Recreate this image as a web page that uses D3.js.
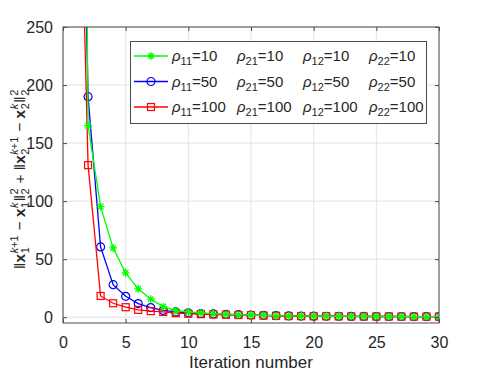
<!DOCTYPE html>
<html>
<head>
<meta charset="utf-8">
<script src="https://cdn.jsdelivr.net/npm/d3@7"></script>
<style>
  body { margin: 0; background: #fff; }
  text { font-family: "Liberation Sans", Arial, sans-serif; fill: #262626; }
</style>
</head>
<body>
<svg width="485" height="374"></svg>
<script>
var iterations = d3.range(1, 31);
var rho10 = [1500, 165, 95.3, 59.7, 38.2, 24.4, 15.5, 9.1, 5.7, 4.5, 3.6, 3, 2.6, 2.2, 1.9, 1.6, 1.3, 1.1, 1, 0.9, 0.8, 0.8, 0.7, 0.7, 0.6, 0.6, 0.6, 0.5, 0.5, 0.5];
var rho50 = [700, 190, 60.5, 28, 18, 11.7, 8.3, 5.8, 4.5, 3.8, 3.2, 2.8, 2.5, 2.2, 1.9, 1.6, 1.3, 1.1, 1, 0.9, 0.8, 0.8, 0.7, 0.7, 0.6, 0.6, 0.6, 0.5, 0.5, 0.5];
var rho100 = [560, 131, 18.3, 12, 8.6, 6.3, 5.2, 4.5, 3.5, 3, 2.6, 2.3, 2.1, 1.9, 1.7, 1.4, 1.2, 1, 0.9, 0.8, 0.8, 0.7, 0.7, 0.6, 0.6, 0.6, 0.5, 0.5, 0.5, 0.5];
var rhoValues = [10, 50, 100];
var xTicks = [0, 5, 10, 15, 20, 25, 30];
var yTicks = [0, 50, 100, 150, 200, 250];

var svg = d3.select("svg"),
    margin = {top: 27, left: 63, bottom: 51, right: 46},
    width = +svg.attr("width") - margin.left - margin.right,
    height = +svg.attr("height") - margin.top - margin.bottom;

var x = d3.scaleLinear().domain([0, 30]).range([0, width]);
var y = d3.scaleLinear().domain([-5, 250]).range([height, 0]);

var g = svg.append("g")
    .attr("transform", "translate(" + margin.left + "," + margin.top + ")");

// grid
g.append("g").selectAll("line").data(xTicks).enter().append("line")
    .attr("x1", function(d) { return x(d); }).attr("x2", function(d) { return x(d); })
    .attr("y1", 0).attr("y2", height)
    .attr("stroke", "#e3e3e3");
g.append("g").selectAll("line").data(yTicks).enter().append("line")
    .attr("y1", function(d) { return y(d); }).attr("y2", function(d) { return y(d); })
    .attr("x1", 0).attr("x2", width)
    .attr("stroke", "#e3e3e3");

// series (drawn blue, red, green so green stars sit on top)
var series = [
  {key: "rho50", values: rho50, color: "#0000ff", marker: "circle", rho: 50},
  {key: "rho100", values: rho100, color: "#ff0000", marker: "square", rho: 100},
  {key: "rho10", values: rho10, color: "#00ff00", marker: "star", rho: 10}
];

g.append("clipPath").attr("id", "clip").append("rect")
    .attr("width", width).attr("height", height);

var line = d3.line()
    .x(function(d, i) { return x(iterations[i]); })
    .y(function(d) { return y(d); });

function drawMarker(sel, type, color) {
  if (type === "circle") {
    sel.append("circle").attr("r", 4).attr("fill", "none").attr("stroke", color).attr("stroke-width", 1.2);
  } else if (type === "square") {
    sel.append("rect").attr("x", -3.5).attr("y", -3.5).attr("width", 7).attr("height", 7)
        .attr("fill", "none").attr("stroke", color).attr("stroke-width", 1.2);
  } else {
    sel.append("path")
        .attr("d", "M-4,0H4M0,-4V4M-2.8,-2.8L2.8,2.8M-2.8,2.8L2.8,-2.8")
        .attr("stroke", color).attr("stroke-width", 1.3);
  }
}

series.forEach(function(s) {
  var sg = g.append("g").attr("clip-path", "url(#clip)");
  sg.append("path")
      .datum(s.values)
      .attr("fill", "none")
      .attr("stroke", s.color)
      .attr("stroke-width", 1.3)
      .attr("d", line);
  sg.selectAll(".m").data(s.values).enter().append("g")
      .attr("class", "m")
      .attr("transform", function(d, i) { return "translate(" + x(iterations[i]) + "," + y(d) + ")"; })
      .each(function() { drawMarker(d3.select(this), s.marker, s.color); });
});

// axes box
g.append("rect").attr("width", width).attr("height", height)
    .attr("fill", "none").attr("stroke", "#4d4d4d").attr("stroke-width", 1);

g.append("g")
    .attr("transform", "translate(0," + height + ")")
    .call(d3.axisBottom(x).tickValues(xTicks).tickSizeInner(-4).tickSizeOuter(0).tickPadding(14));
g.append("g")
    .call(d3.axisLeft(y).tickValues(yTicks).tickSizeInner(-4).tickSizeOuter(0).tickPadding(10));
g.append("g").attr("transform", "translate(" + width + ",0)")
    .call(d3.axisRight(y).tickValues(yTicks).tickSizeInner(-4).tickSizeOuter(0).tickFormat(""));
g.append("g")
    .call(d3.axisTop(x).tickValues(xTicks).tickSizeInner(-4).tickSizeOuter(0).tickFormat(""));

g.selectAll(".domain").remove();
g.selectAll(".tick line").attr("stroke", "#4d4d4d");
g.selectAll(".tick text")
    .style("font-family", "'Liberation Sans', Arial, sans-serif")
    .attr("font-size", 16).attr("fill", "#262626");

// x label
svg.append("text")
    .attr("x", margin.left + width / 2)
    .attr("y", 368)
    .attr("text-anchor", "middle")
    .attr("font-size", 17)
    .text("Iteration number");

// y label built from pieces
var fs = 15.5, small = 11;
var pieces = [
  {t: "\u2016"}, {t: "x", b: true}, {sub: "1", sup: "k+1"}, {t: " \u2212 "},
  {t: "x", b: true}, {sub: "1", sup: "k"}, {t: "\u2016"}, {sub: "2", sup: "2"},
  {t: " + "},
  {t: "\u2016"}, {t: "x", b: true}, {sub: "2", sup: "k+1"}, {t: " \u2212 "},
  {t: "x", b: true}, {sub: "2", sup: "k"}, {t: "\u2016"}, {sub: "2", sup: "2"}
];
var yl = svg.append("g").attr("transform", "translate(25," + (margin.top + height / 2 + 4) + ") rotate(-90)");
var inner = yl.append("g");
var cx = 0;
function supText(sel, s) {
  s.split("").forEach(function(ch) {
    sel.append("tspan").attr("font-style", ch === "k" ? "italic" : "normal").text(ch);
  });
}
pieces.forEach(function(p) {
  if (p.t !== undefined) {
    var t = inner.append("text").attr("x", cx).attr("y", 0).attr("font-size", fs)
        .attr("font-weight", p.b ? "bold" : "normal")
        .style("white-space", "pre").text(p.t);
    cx += t.node().getComputedTextLength();
  } else {
    var a = inner.append("text").attr("x", cx + 0.5).attr("y", 4).attr("font-size", small).text(p.sub);
    var b = inner.append("text").attr("x", cx + 0.5).attr("y", -7.5).attr("font-size", small);
    supText(b, p.sup);
    cx += Math.max(a.node().getComputedTextLength(), b.node().getComputedTextLength()) + 1;
  }
});
inner.attr("transform", "translate(" + (-cx / 2) + ",0)");

// legend
var legend = svg.append("g");
legend.append("rect")
    .attr("x", 130.5).attr("y", 41.5).attr("width", 296).attr("height", 82)
    .attr("fill", "#fff").attr("stroke", "#4d4d4d").attr("stroke-width", 1);
var legendOrder = [series[2], series[0], series[1]];
var subs = ["11", "21", "12", "22"];
var colX = [172, 237, 303, 369];
legendOrder.forEach(function(s, i) {
  var ly = 56 + i * 25.5;
  legend.append("line").attr("x1", 134).attr("x2", 168).attr("y1", ly).attr("y2", ly)
      .attr("stroke", s.color).attr("stroke-width", 1.3);
  var mg = legend.append("g").attr("transform", "translate(151," + ly + ")");
  drawMarker(mg, s.marker, s.color);
  subs.forEach(function(sb, j) {
    var t = legend.append("text").attr("x", colX[j]).attr("y", ly + 5).attr("font-size", 15);
    t.append("tspan").attr("font-style", "italic").text("\u03c1");
    t.append("tspan").attr("font-size", 11).attr("dy", 4).text(sb);
    t.append("tspan").attr("dy", -4).text("=" + s.rho);
  });
});
</script>
</body>
</html>
